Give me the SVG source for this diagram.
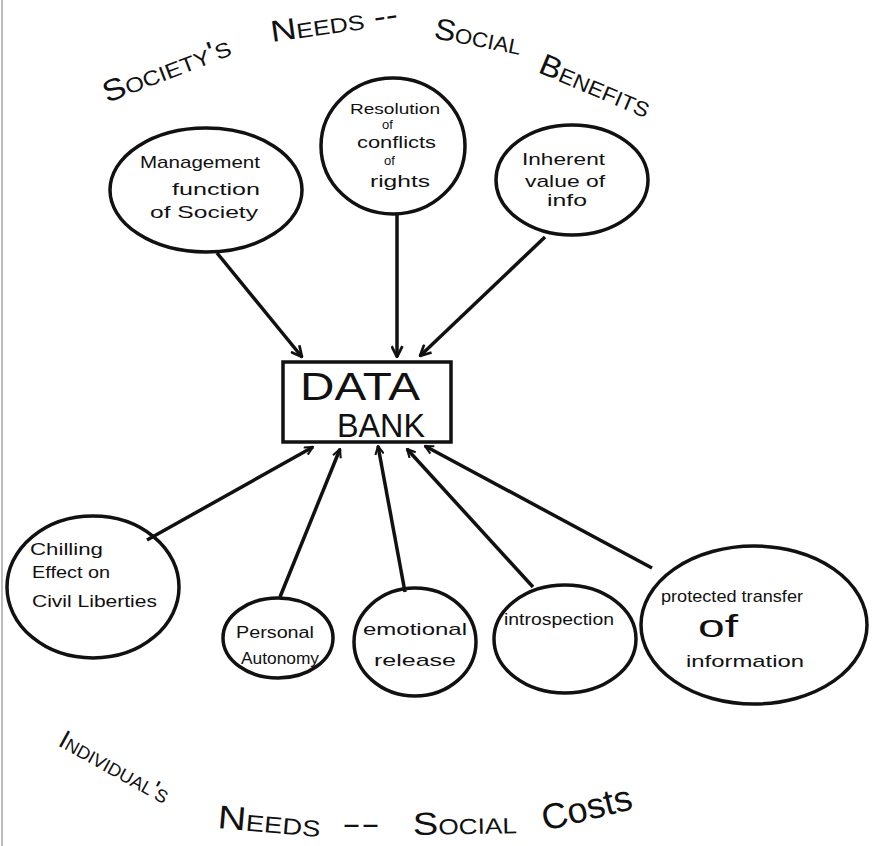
<svg xmlns="http://www.w3.org/2000/svg" width="872" height="846" viewBox="0 0 872 846">
<defs>
<marker id="ah" viewBox="0 0 12 12" refX="11" refY="6" markerWidth="13" markerHeight="13" markerUnits="userSpaceOnUse" orient="auto">
<path d="M1,1 L11,6 L1,11" fill="none" stroke="#111" stroke-width="2.5"/>
</marker>
<marker id="ahs" viewBox="0 0 12 12" refX="11" refY="6" markerWidth="10" markerHeight="10" markerUnits="userSpaceOnUse" orient="auto">
<path d="M1,1 L11,6 L1,11" fill="none" stroke="#111" stroke-width="2.5"/>
</marker>
</defs>
<style>
.node{fill:none;stroke:#111;stroke-width:3.5}
.lbl{font-family:"Liberation Sans",Arial,sans-serif;font-size:17px;fill:#111}
.edge{stroke:#111;stroke-width:3.5;fill:none}
.hdr{font-family:"Liberation Sans",Arial,sans-serif;font-size:30px;fill:#111;font-variant:small-caps}
.db{font-family:"Liberation Sans",Arial,sans-serif;font-size:38px;fill:#111}
</style>
<rect width="872" height="846" fill="#fff"/>
<line x1="2" y1="0" x2="2" y2="846" stroke="#bbb" stroke-width="2"/>

<g id="title-top">
<text class="hdr" transform="translate(107,103) rotate(-21)" textLength="135" lengthAdjust="spacingAndGlyphs">Society's</text>
<text class="hdr" transform="translate(272,42) rotate(-8)" textLength="128" lengthAdjust="spacingAndGlyphs">Needs --</text>
<text class="hdr" transform="translate(433,38) rotate(11)" textLength="88" lengthAdjust="spacingAndGlyphs">Social</text>
<text class="hdr" transform="translate(537,72) rotate(23)" textLength="118" lengthAdjust="spacingAndGlyphs">Benefits</text>
</g>
<g id="title-bottom">
<text class="hdr" style="font-size:26px" transform="translate(57,745) rotate(29)" textLength="122" lengthAdjust="spacingAndGlyphs">Individual's</text>
<text class="hdr" style="font-size:33px" transform="translate(217,828) rotate(5)" textLength="103" lengthAdjust="spacingAndGlyphs">Needs</text>
<text class="hdr" style="font-size:30px" x="342" y="834" textLength="38" lengthAdjust="spacingAndGlyphs">--</text>
<text class="hdr" style="font-size:32px" transform="translate(413,835) rotate(-1)" textLength="104" lengthAdjust="spacingAndGlyphs">Social</text>
<text class="hdr" style="font-size:36px;font-variant:normal" transform="translate(545,831) rotate(-14)" textLength="92" lengthAdjust="spacingAndGlyphs">Costs</text>
</g>

<g id="connectors">
<path class="edge" d="M217,253 L302,357" marker-end="url(#ah)"/>
<path class="edge" d="M397,213 L397,357" marker-end="url(#ah)"/>
<path class="edge" d="M545,237 L420,356" marker-end="url(#ah)"/>
<path class="edge" d="M147,540 L313,447" marker-end="url(#ahs)"/>
<path class="edge" d="M280,597 L340,449" marker-end="url(#ahs)"/>
<path class="edge" d="M405,592 L378,446" marker-end="url(#ahs)"/>
<path class="edge" d="M533,587 L407,449" marker-end="url(#ahs)"/>
<path class="edge" d="M652,568 L425,446" marker-end="url(#ahs)"/>
</g>

<g id="n-management">
<ellipse class="node" cx="206" cy="190" rx="96" ry="62"/>
<text class="lbl" x="140" y="168" textLength="120" lengthAdjust="spacingAndGlyphs">Management</text>
<text class="lbl" x="172" y="195" textLength="88" lengthAdjust="spacingAndGlyphs">function</text>
<text class="lbl" x="150" y="218" textLength="108" lengthAdjust="spacingAndGlyphs">of Society</text>
</g>
<g id="n-resolution">
<ellipse class="node" cx="393" cy="146" rx="72" ry="68"/>
<text class="lbl" x="350" y="114" style="font-size:15px" textLength="90" lengthAdjust="spacingAndGlyphs">Resolution</text>
<text class="lbl" x="382" y="129" style="font-size:13px">of</text>
<text class="lbl" x="357" y="148" style="font-size:16px" textLength="79" lengthAdjust="spacingAndGlyphs">conflicts</text>
<text class="lbl" x="384" y="165" style="font-size:13px">of</text>
<text class="lbl" x="370" y="187" style="font-size:17px" textLength="60" lengthAdjust="spacingAndGlyphs">rights</text>
</g>
<g id="n-inherent">
<ellipse class="node" cx="572" cy="180" rx="76" ry="55"/>
<text class="lbl" x="522" y="165" textLength="83" lengthAdjust="spacingAndGlyphs">Inherent</text>
<text class="lbl" x="525" y="187" textLength="80" lengthAdjust="spacingAndGlyphs">value of</text>
<text class="lbl" x="547" y="206" textLength="40" lengthAdjust="spacingAndGlyphs">info</text>
</g>
<g id="n-databank">
<rect class="node" x="283" y="362" width="168" height="80"/>
<text class="db" x="300" y="400" textLength="120" lengthAdjust="spacingAndGlyphs">DATA</text>
<text class="db" style="font-size:33px" x="337" y="437" textLength="88" lengthAdjust="spacingAndGlyphs">BANK</text>
</g>
<g id="n-chilling">
<ellipse class="node" cx="93" cy="587" rx="86" ry="71"/>
<text class="lbl" x="30" y="555" textLength="73" lengthAdjust="spacingAndGlyphs">Chilling</text>
<text class="lbl" x="32" y="578" textLength="78" lengthAdjust="spacingAndGlyphs">Effect on</text>
<text class="lbl" x="32" y="607" textLength="125" lengthAdjust="spacingAndGlyphs">Civil Liberties</text>
</g>
<g id="n-autonomy">
<ellipse class="node" cx="278" cy="638" rx="55" ry="40"/>
<text class="lbl" x="236" y="638" style="font-size:16px" textLength="78" lengthAdjust="spacingAndGlyphs">Personal</text>
<text class="lbl" x="241" y="664" style="font-size:16px" textLength="78" lengthAdjust="spacingAndGlyphs">Autonomy</text>
</g>
<g id="n-emotional">
<ellipse class="node" cx="415" cy="642" rx="61" ry="54"/>
<text class="lbl" x="363" y="635" textLength="104" lengthAdjust="spacingAndGlyphs">emotional</text>
<text class="lbl" x="374" y="666" textLength="82" lengthAdjust="spacingAndGlyphs">release</text>
</g>
<g id="n-introspection">
<ellipse class="node" cx="565" cy="639" rx="71" ry="54"/>
<text class="lbl" x="504" y="625" textLength="110" lengthAdjust="spacingAndGlyphs">introspection</text>
</g>
<g id="n-protected">
<ellipse class="node" cx="754" cy="625" rx="113" ry="79"/>
<text class="lbl" x="661" y="602" textLength="142" lengthAdjust="spacingAndGlyphs">protected transfer</text>
<text class="lbl" x="698" y="637" style="font-size:32px" textLength="40" lengthAdjust="spacingAndGlyphs">of</text>
<text class="lbl" x="686" y="667" textLength="118" lengthAdjust="spacingAndGlyphs">information</text>
</g>
</svg>
